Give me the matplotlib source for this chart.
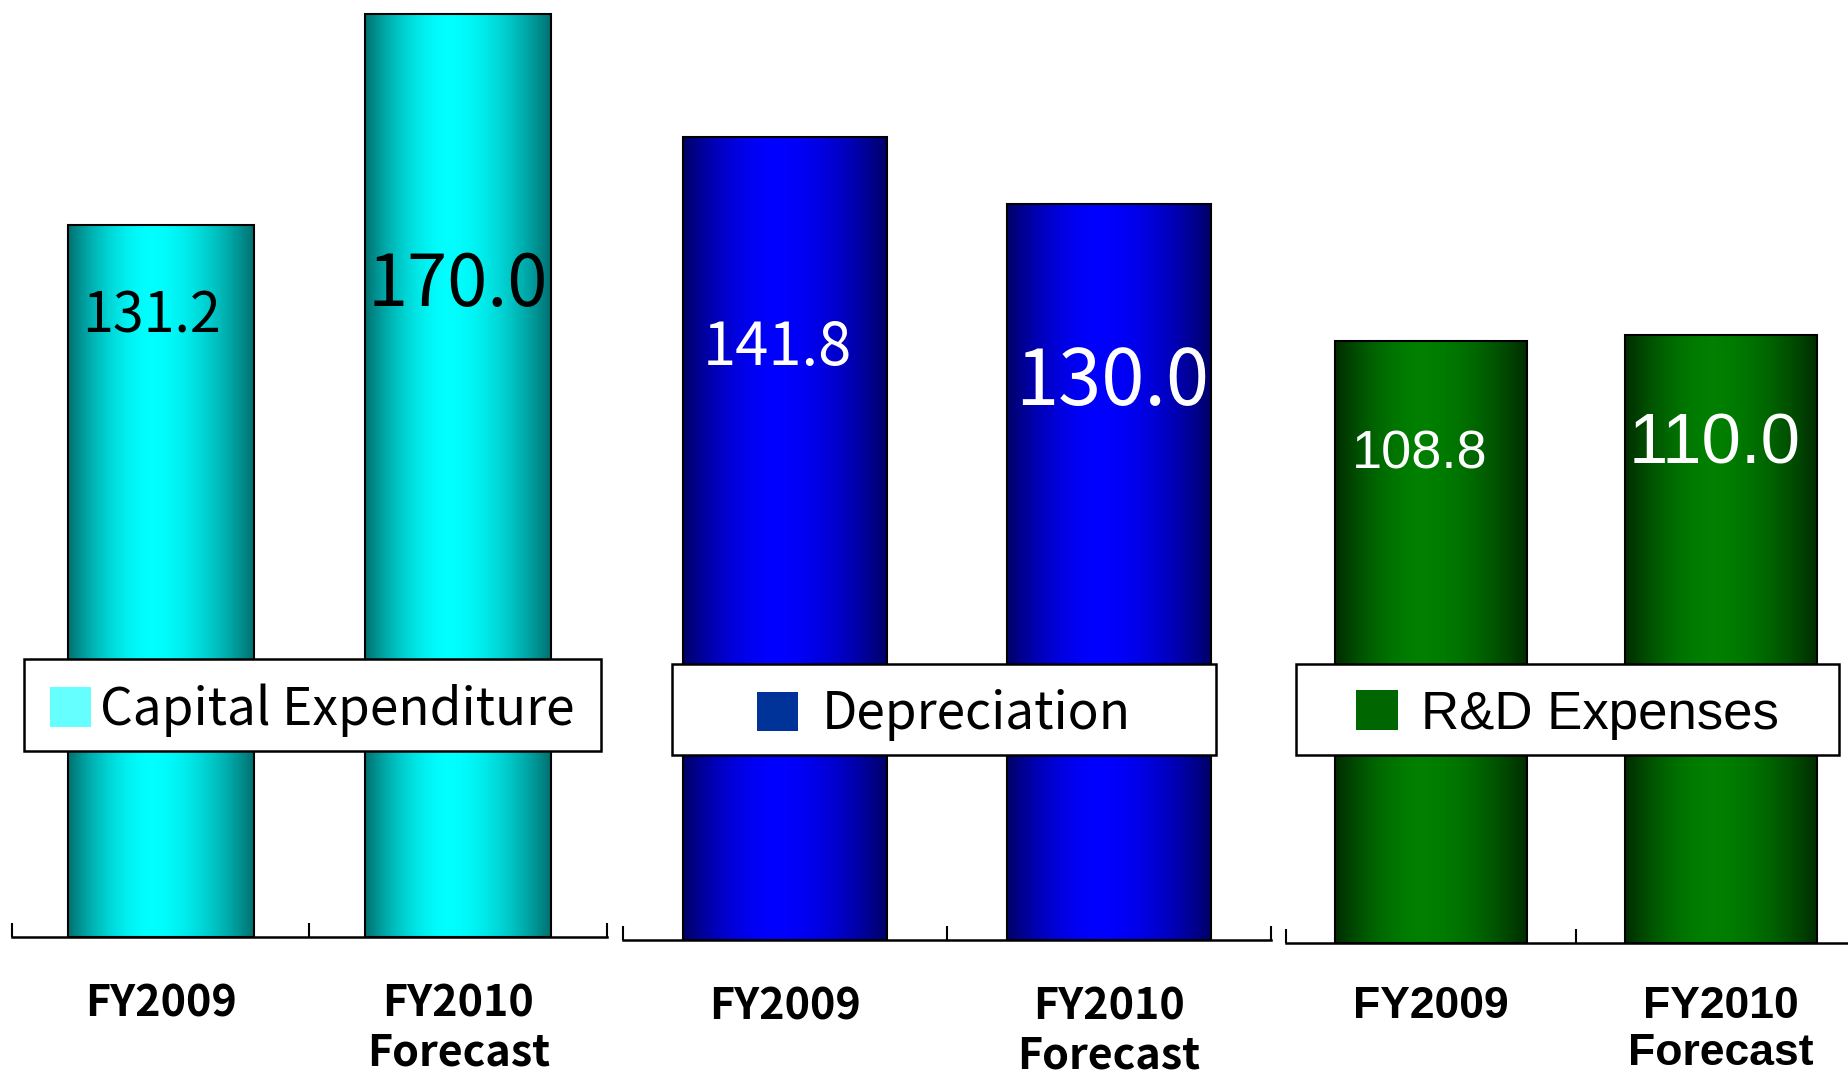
import matplotlib.pyplot as plt
import numpy as np
from matplotlib.patches import Patch, Rectangle

# values in billions of yen
categories = ["FY2009", "FY2010\nForecast"]
capex = [131.2, 170.0]
depreciation = [141.8, 130.0]
rnd = [108.8, 110.0]
series_names = ["Capital Expenditure", "Depreciation", "R&D Expenses"]

W, H, DPI = 1849, 1075, 100

# layout of the three panels, in pixels of the final picture
panels = [
    dict(values=capex, name=series_names[0], rect=(12, 0, 595, 937), px_per_unit=5.43,
         xmax=1.5, width=0.625, dark=(0.0, 0.44, 0.44), bright=(0.0, 1.0, 1.0),
         swatch="#66ffff", font="Noto Sans CJK JP", txt="black",
         sizes=(40, 52), offs=[(-9, 92), (0, 272)], catsize=31, catpad=32, lsp=1.15,
         box=(24, 659, 601, 751), legsize=37, textpad=0.18),
    dict(values=depreciation, name=series_names[1], rect=(623, 0, 648, 940), px_per_unit=5.66,
         xmax=1.5, width=0.63, dark=(0.0, 0.0, 0.40), bright=(0.0, 0.0, 1.0),
         swatch="#003399", font="Noto Sans CJK JP", txt="white",
         sizes=(43, 56), offs=[(-8, 211), (3, 179)], catsize=31, catpad=32, lsp=1.15,
         box=(672, 664, 1216, 755), legsize=37, textpad=0.45),
    dict(values=rnd, name=series_names[2], rect=(1286, 0, 563, 943), px_per_unit=5.53,
         xmax=-0.5 + 563 / 290, width=0.665, dark=(0.0, 0.17, 0.0), bright=(0.0, 0.5, 0.0),
         swatch="#006600", font="Liberation Sans", txt="white",
         sizes=(39, 51), offs=[(-11, 113), (-6, 111)], catsize=32, catpad=31, lsp=1.2,
         box=(1296, 664, 1839, 755), legsize=38, textpad=0.44),
]


def gradient_bar(ax, x, h, width, dark, bright, peak=0.45):
    bar = ax.bar(x, h, width, color="none", edgecolor="black", linewidth=1.5, zorder=3)[0]
    t = np.linspace(0, 1, 256)
    d = np.where(t < peak, (peak - t) / peak, (t - peak) / (1 - peak))
    f = 1 - d ** 1.8
    dark = np.array(dark)
    bright = np.array(bright)
    rgb = dark[None, :] + (bright - dark)[None, :] * f[:, None]
    im = ax.imshow(rgb[None, :, :], extent=(x - width / 2, x + width / 2, 0, h),
                   aspect="auto", zorder=2, interpolation="bilinear")
    im.set_clip_path(bar)


fig = plt.figure(figsize=(W / DPI, H / DPI), dpi=DPI)

for p in panels:
    left, top, w, h = p["rect"]
    ax = fig.add_axes([left / W, 1 - (top + h) / H, w / W, h / H])
    xs = np.arange(len(categories))
    for x, v in zip(xs, p["values"]):
        gradient_bar(ax, x, v, p["width"], p["dark"], p["bright"])
    for i, (x, v) in enumerate(zip(xs, p["values"])):
        dx, dy = p["offs"][i]
        ax.annotate(f"{v:.1f}", xy=(x, v), xytext=(dx, -dy), textcoords="offset pixels",
                    ha="center", va="center", fontsize=p["sizes"][i],
                    color=p["txt"], family=p["font"], zorder=4)

    for s in ["top", "left", "right"]:
        ax.spines[s].set_visible(False)
    ax.spines["bottom"].set_linewidth(1.8)
    ax.set_yticks([])
    ax.set_xticks([-0.5, 0.5, 1.5])
    ax.tick_params(which="major", direction="in", length=10, width=1.5, labelbottom=False)
    ax.set_xticks(xs, categories, minor=True)
    ax.tick_params(which="minor", length=0, pad=p["catpad"])
    for lab in ax.get_xticklabels(minor=True):
        lab.set_fontsize(p["catsize"])
        lab.set_fontweight("bold")
        lab.set_family(p["font"])
        lab.set_linespacing(p["lsp"])
    # limits last, set_xticks would widen them otherwise
    ax.set_xlim(-0.5, p["xmax"])
    ax.set_ylim(0, h / p["px_per_unit"])
    ax.patch.set_visible(False)

    # legend box sitting over the bars
    x0, y0, x1, y1 = p["box"]
    fig.add_artist(Rectangle((x0 / W, 1 - y1 / H), (x1 - x0) / W, (y1 - y0) / H,
                             transform=fig.transFigure, facecolor="white",
                             edgecolor="black", linewidth=1.8, zorder=4))
    fig.legend(handles=[Patch(facecolor=p["swatch"], edgecolor="none", label=p["name"])],
               loc="center", bbox_to_anchor=((x0 + x1) / 2 / W, 1 - ((y0 + y1) / 2 + 5) / H),
               bbox_transform=fig.transFigure, frameon=False, handlelength=0.8,
               handleheight=0.8, handletextpad=p["textpad"], borderpad=0,
               prop=dict(family=p["font"], size=p["legsize"]))

fig.savefig("out.png", dpi=DPI)
